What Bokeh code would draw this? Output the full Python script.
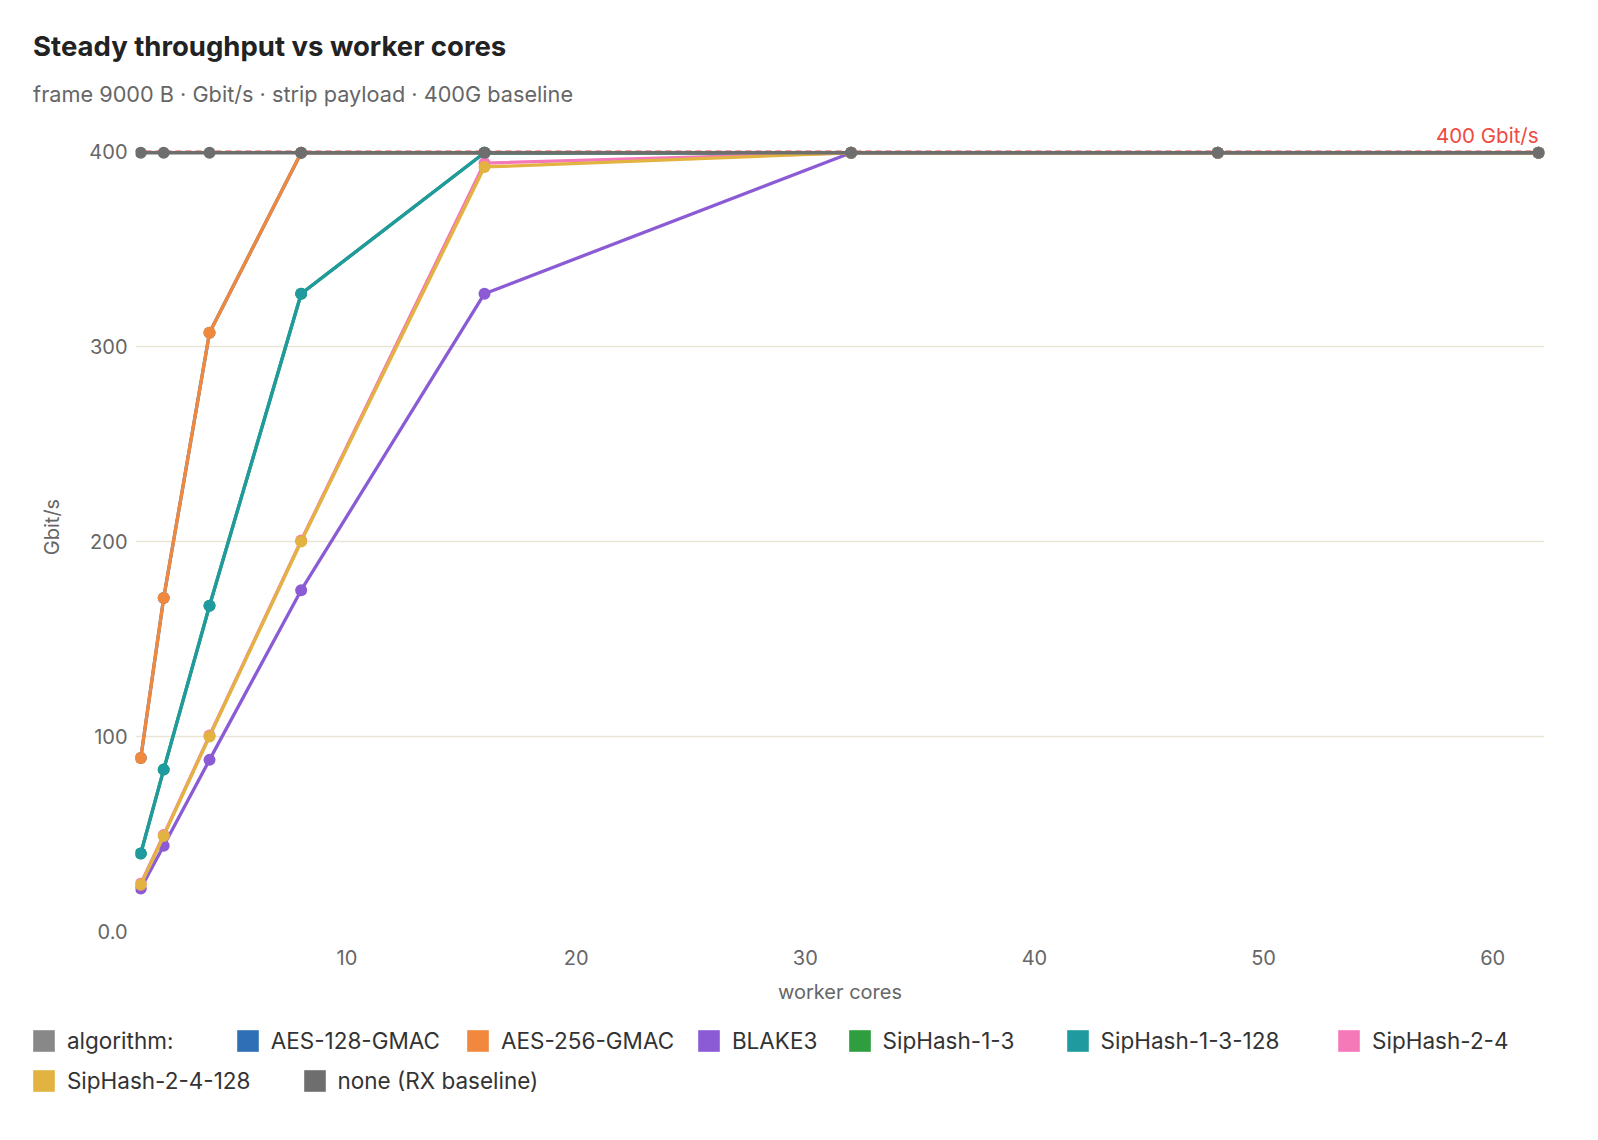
from bokeh.plotting import figure
from bokeh.models import (ColumnDataSource, Span, Label, Legend, LegendItem,
                          FixedTicker, Range1d, Title)
from bokeh.embed import file_html
from bokeh.resources import INLINE

# ---------------- data ----------------
cores = [1, 2, 4, 8, 16, 32, 48, 62]
algorithms = ["AES-128-GMAC", "AES-256-GMAC", "BLAKE3", "SipHash-1-3",
              "SipHash-1-3-128", "SipHash-2-4", "SipHash-2-4-128",
              "none (RX baseline)"]
aes128_gmac = [89, 171, 307, 399.3, 399.3, 399.3, 399.3, 399.3]
aes256_gmac = [89, 171, 307, 399.3, 399.3, 399.3, 399.3, 399.3]
blake3 = [22, 44, 88, 175, 327, 399.3, 399.3, 399.3]
siphash13 = [40, 83, 167, 327, 399.3, 399.3, 399.3, 399.3]
siphash13_128 = [40, 83, 167, 327, 399.3, 399.3, 399.3, 399.3]
siphash24 = [24.5, 49.5, 100.5, 200.5, 394, 399.3, 399.3, 399.3]
siphash24_128 = [24, 49, 100, 200, 392, 399.3, 399.3, 399.3]
rx_baseline = [399.3, 399.3, 399.3, 399.3, 399.3, 399.3, 399.3, 399.3]
line_rate = 400
x_ticks = [10, 20, 30, 40, 50, 60]
y_ticks = [0, 100, 200, 300, 400]

series = [aes128_gmac, aes256_gmac, blake3, siphash13, siphash13_128,
          siphash24, siphash24_128, rx_baseline]
colors = ["#2f6fb6", "#f0883e", "#8b5bd6", "#2e9e3e", "#1f9a9e",
          "#f578b9", "#e3b341", "#6e6e6e"]

FONT = "Inter"
W = 1598
MAIN_H, LEG_H = 1010, 130
BL, BR, BT, BB = 135, 54, 122, 79

# ---------------- main chart ----------------
p = figure(width=W, height=MAIN_H, output_backend="svg", toolbar_location=None,
           x_range=Range1d(0.77, 62.26), y_range=Range1d(0, 414.8),
           title=None, min_border_left=BL, min_border_right=BR,
           min_border_top=BT, min_border_bottom=BB)
p.outline_line_color = None
p.xgrid.grid_line_color = None
p.ygrid.grid_line_color = "#e9e5d6"
p.ygrid.grid_line_width = 1.5

p.xaxis.ticker = FixedTicker(ticks=x_ticks)
p.yaxis.ticker = FixedTicker(ticks=y_ticks)
p.yaxis.major_label_overrides = {0: "0.0"}
for ax in (p.xaxis[0], p.yaxis[0]):
    ax.axis_line_color = None
    ax.major_tick_line_color = None
    ax.minor_tick_line_color = None
    ax.major_tick_out = 0
    ax.major_tick_in = 0
    ax.major_label_text_color = "#666666"
    ax.major_label_text_font = FONT
    ax.major_label_text_font_size = "20px"
    ax.axis_label_text_color = "#666666"
    ax.axis_label_text_font = FONT
    ax.axis_label_text_font_size = "20px"
    ax.axis_label_text_font_style = "normal"
p.xaxis.axis_label = "worker cores"
p.yaxis.axis_label = "Gbit/s"
p.xaxis.major_label_standoff = 18
p.xaxis.axis_label_standoff = 12
p.yaxis.major_label_standoff = 8
p.yaxis.axis_label_standoff = 22

# titles (first added sits closest to the frame)
p.add_layout(Title(text="frame 9000 B \u00b7 Gbit/s \u00b7 strip payload \u00b7 400G baseline",
                   align="left", offset=32.6 - BL, standoff=31,
                   text_font=FONT, text_font_size="21.7px",
                   text_font_style="normal", text_color="#666666"), "above")
p.add_layout(Title(text="Steady throughput vs worker cores",
                   align="left", offset=32.6 - BL, standoff=2,
                   text_font=FONT, text_font_size="27.5px",
                   text_font_style="bold", text_color="#222222"), "above")

span = Span(location=line_rate, dimension="width", line_color="#ef4a3f",
            line_width=1.5, line_dash="6 4", level="underlay")
p.add_layout(span)
p.add_layout(Label(x=cores[-1], y=line_rate, text="400 Gbit/s",
                   text_align="right", text_baseline="middle", y_offset=16,
                   text_color="#ef4a3f", text_font=FONT,
                   text_font_size="20.5px"))

sources = []
for vals, col in zip(series, colors):
    src = ColumnDataSource(dict(x=cores, y=vals))
    sources.append(src)
    p.line("x", "y", source=src, line_color=col, line_width=3.3)
    p.scatter("x", "y", source=src, size=12, fill_color=col, line_color=None)

# ---------------- legend strip (separate figure below the chart) ----------------
leg_fig = figure(width=W, height=LEG_H, output_backend="svg",
                 toolbar_location=None, x_range=Range1d(0, 1),
                 y_range=Range1d(0, 1), x_axis_type=None, y_axis_type=None,
                 title=None, min_border=0)
leg_fig.outline_line_color = None
leg_fig.xgrid.visible = False
leg_fig.ygrid.visible = False

# zero-size rects: nothing visible, they only provide the legend swatches
swatches = [leg_fig.rect("x", "y", source=src, width=0, height=0,
                         fill_color=col, line_color=None)
            for src, col in zip(sources, colors)]
algo_swatch = leg_fig.rect(x=cores, y=rx_baseline, width=0, height=0,
                           fill_color="#888888", line_color=None)

legend_labels = ["algorithm:"] + algorithms
legend_swatches = [algo_swatch] + swatches
legend_left = [32.6, 236.4, 466.7, 697.6, 848.3, 1066.2, 1337.8, 32.6, 303.2]
legend_row_top = [1026.5] * 7 + [1066.0] * 2
G, LH = 27, 28
for lab, rend, lx, top in zip(legend_labels, legend_swatches, legend_left,
                              legend_row_top):
    leg = Legend(items=[LegendItem(label=lab, renderers=[rend])],
                 location=(lx - 0.1 * G, LEG_H - (top - MAIN_H + LH)),
                 orientation="horizontal", padding=0, margin=0, spacing=0,
                 glyph_width=G, glyph_height=G, label_height=LH,
                 label_standoff=10, border_line_color=None,
                 background_fill_alpha=0, label_text_font=FONT,
                 label_text_font_size="22.5px", label_text_color="#333333",
                 label_text_baseline="middle")
    leg_fig.add_layout(leg, "center")

open("out.html", "w").write(file_html([p, leg_fig], INLINE))
